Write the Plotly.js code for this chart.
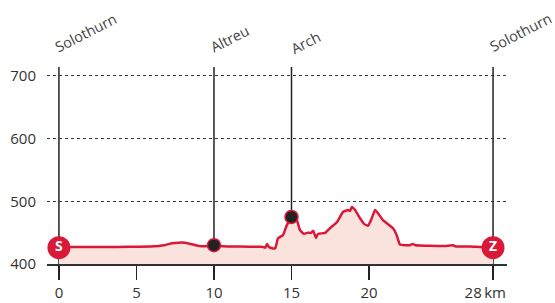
<!DOCTYPE html>
<html>
<head>
<meta charset="utf-8">
<script src="https://cdn.plot.ly/plotly-3.0.1.min.js"></script>
<style>html,body{margin:0;padding:0;background:#fff;}#chart{width:555px;height:303px;}</style>
</head>
<body>
<div id="chart"></div>
<script>
// ---- data ----
var km = [0, 1.5, 3, 4.5, 5.9, 6.8, 7.3, 7.7, 8.1, 8.5, 9.1, 10, 11, 12.3, 13.1, 13.3, 13.42, 13.55, 13.75, 13.95,
  14.13, 14.45, 14.7, 15.03, 15.16, 15.35, 15.55, 15.8, 16.06, 16.26, 16.39, 16.5, 16.58, 16.71, 17.16, 17.48,
  17.94, 18.32, 18.65, 18.77, 18.9, 19.1, 19.42, 19.68, 19.94, 20.13, 20.39, 20.58, 20.9, 21.55, 21.8, 22.0,
  22.65, 22.8, 23.0, 23.3, 23.9, 24.9, 25.4, 25.6, 25.87, 26.5, 27.16, 28];
var elev = [427, 427, 427, 427.5, 428, 430, 433, 434, 434, 432, 428.5, 429, 428, 427.5, 427.5, 426, 432, 427, 425, 425,
  441, 446, 462, 475, 479, 470, 454, 448, 450, 449.5, 453, 447, 441.5, 448, 449.5, 457,
  467, 483, 486, 484.5, 491, 486, 473, 464, 461, 470, 486, 481, 470, 457, 445, 431,
  430, 432, 430, 429.5, 429, 428.7, 430, 428, 428, 428, 427, 426];
var places = ['Solothurn', 'Altreu', 'Arch', 'Solothurn'];
var placeKm = [0, 10, 15, 28];
var placeElev = [426, 430, 475, 426];
var xTickVals = [0, 5, 10, 15, 20, 28];
var xTickText = ['0', '5', '10', '15', '20', '28\u2009km'];
var yTickVals = [400, 500, 600, 700];

// ---- styling ----
var red = 'rgb(218,24,56)';
var fillPink = 'rgb(250,227,221)';
var dark = '#222';
var labelOffsets = [[27, 35], [16, 29], [14, 25], [27, 35]];
var lastTickPad = '\u00a0\u00a0\u00a0\u00a0';

var traces = [
  {x: km, y: elev, type: 'scatter', mode: 'lines', fill: 'tozeroy', fillcolor: fillPink,
   line: {color: red, width: 2.5, shape: 'spline', smoothing: 0.4}, hoverinfo: 'skip'},
  {x: [placeKm[1], placeKm[2]], y: [placeElev[1], placeElev[2]], type: 'scatter', mode: 'markers',
   marker: {size: 13, color: dark, line: {color: red, width: 1.5}}, hoverinfo: 'skip'},
  {x: [placeKm[0], placeKm[3]], y: [placeElev[0], placeElev[3]], type: 'scatter', mode: 'markers+text',
   text: ['S', 'Z'], textposition: 'middle center',
   textfont: {family: 'Open Sans, sans-serif', size: 14, color: '#fff', weight: 'bold'},
   marker: {size: 23, color: red, line: {width: 0}}, hoverinfo: 'skip'}
];

var shapes = placeKm.map(function (k) {
  return {type: 'line', xref: 'x', yref: 'paper', x0: k, x1: k, y0: 0, y1: 1,
          line: {color: dark, width: 1.5}, layer: 'below'};
});

var annotations = places.map(function (p, i) {
  return {x: placeKm[i], y: 1, xref: 'x', yref: 'paper', text: p, showarrow: false,
          textangle: -27, xanchor: 'center', yanchor: 'middle',
          xshift: labelOffsets[i][0], yshift: labelOffsets[i][1],
          font: {family: 'Open Sans, sans-serif', size: 14.5, color: '#444'}};
});

var ticktext = xTickText.map(function (t, i) { return i === xTickText.length - 1 ? t + lastTickPad : t; });

var layout = {
  width: 555, height: 303,
  margin: {l: 47, r: 48, t: 67, b: 39},
  paper_bgcolor: '#fff', plot_bgcolor: '#fff',
  showlegend: false,
  font: {family: 'Open Sans, sans-serif', color: '#333', size: 15},
  xaxis: {range: [-0.77, 28.9], tickvals: xTickVals, ticktext: ticktext,
          showgrid: false, zeroline: false, showline: true, linecolor: '#333', linewidth: 1.5,
          ticks: 'outside', ticklen: 14, tickwidth: 1.5, tickcolor: dark,
          tickfont: {size: 15, color: '#333'}, fixedrange: true},
  yaxis: {range: [400, 714], tickvals: yTickVals, showgrid: true, gridcolor: '#333', gridwidth: 1,
          griddash: 'dot', zeroline: false, showline: false, ticks: '',
          ticklabelstandoff: 10, tickfont: {size: 15, color: '#333'}, fixedrange: true},
  shapes: shapes,
  annotations: annotations
};

Plotly.newPlot('chart', traces, layout, {displayModeBar: false, staticPlot: true});
</script>
</body>
</html>
